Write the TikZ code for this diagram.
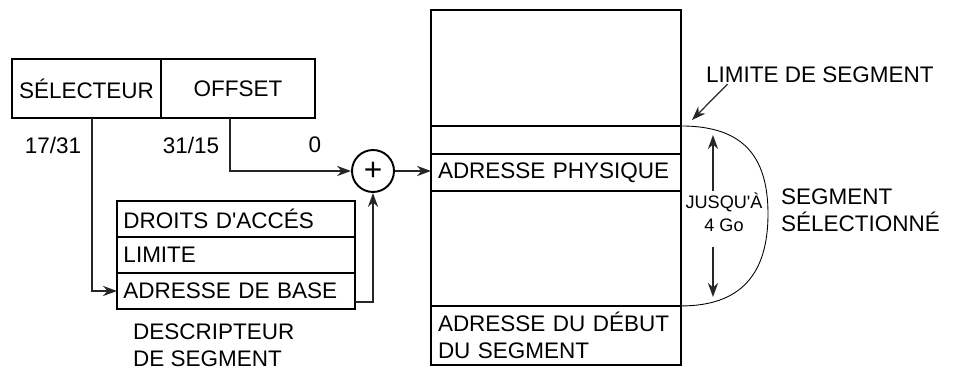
\documentclass[tikz,border=0pt]{standalone}
\usepackage{fontspec}
\setmainfont{Liberation Sans}
\usetikzlibrary{arrows.meta,positioning}

\tikzset{
  box/.style={draw, line width=1.1pt, outer sep=0pt, anchor=north west, align=center},
  desc/.style={box, minimum width=4.76cm, text width=4.5cm, minimum height=0.72cm, align=left},
  mem/.style={box, minimum width=5cm, text width=4.72cm, align=left},
  conn/.style={draw=black!85, line width=0.7pt},
  small/.style={font=\fontsize{10.3}{13}\selectfont}
}

\begin{document}
\begin{tikzpicture}[x=0.02cm,y=-0.02cm,font=\fontsize{12.8}{15.4}\selectfont,
    >={Stealth[length=8pt,width=5.8pt]}]
  \useasboundingbox (0,0) rectangle (968,378);

  % selecteur + offset
  \node[box, minimum width=2.98cm, minimum height=1.18cm, inner xsep=1pt] (sel) at (12,59) {SÉLECTEUR};
  \node[box, minimum width=3.08cm, minimum height=1.18cm] (off) at (sel.north east) {OFFSET};
  \node (b1) at (53,145) {17/31};
  \node (b2) at (191,145) {31/15};
  \node (b0) at (315,145) {0};

  % additionneur
  \node[draw, circle, line width=1.1pt, minimum size=0.84cm, inner sep=0pt,
        font=\fontsize{18}{18}\selectfont] (add) at (373,171) {+};

  % descripteur
  \node[desc] (droits) at (117,201) {DROITS D\textquotesingle ACCÉS};
  \node[desc] (lim)    at (droits.south west) {LIMITE};
  \node[desc] (base)   at (lim.south west) {ADRESSE DE BASE};
  \node[below right=0.18cm and 0.2cm of base.south west, align=left] (cap)
        {DESCRIPTEUR\\DE SEGMENT};

  % memoire
  \node[mem, minimum height=2.32cm] (m1)    at (431,10) {};
  \node[mem, minimum height=0.56cm] (m2)    at (m1.south west) {};
  \node[mem, minimum height=0.74cm] (phys)  at (m2.south west) {ADRESSE PHYSIQUE};
  \node[mem, minimum height=2.3cm]  (m4)    at (phys.south west) {};
  \node[mem, minimum height=1.18cm] (debut) at (m4.south west) {ADRESSE DU DÉBUT\\DU SEGMENT};

  % segment
  \coordinate (apex) at (768,214);
  \coordinate (top) at (713,135);
  \coordinate (bot) at (713,297);
  \coordinate (limtip) at (692,120);
  \node[anchor=west] (limseg) at (700,75) {LIMITE DE SEGMENT};
  \node[anchor=west, align=left] (segsel) at (775,210) {SEGMENT\\SÉLECTIONNÉ};
  \node[small, align=center, inner sep=1pt] (jusq) at (724,212) {JUSQU\textquotesingle À\\4 Go};

  \path[draw, line width=0.5pt] (m2.north east) .. controls +(60,0) and +(0,-60) .. (apex)
        .. controls +(0,60) and +(60,0) .. (debut.north east);

  % liaisons
  \draw[conn,->] ([xshift=0.11cm]sel.south) |- (base.west);
  \draw[conn,->] ([xshift=-0.16cm]off.south) |- (add.west);
  \draw[conn,->] (add.east) -- (add.east -| phys.west);
  \draw[conn,->] ([yshift=-0.22cm]base.east) -| (add.south);
  \draw[conn,->] (jusq.north -| top) -- (top);
  \draw[conn,->] ([yshift=-0.28cm]jusq.south -| bot) -- (bot);
  \draw[conn,->] ([xshift=0.55cm,yshift=0.1cm]limseg.south west) -- (limtip);
\end{tikzpicture}
\end{document}
